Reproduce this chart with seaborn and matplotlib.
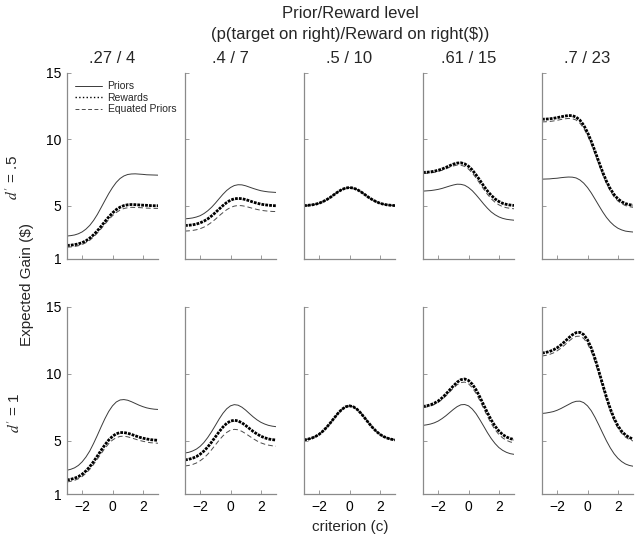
import matplotlib
matplotlib.use("Agg")
import matplotlib.pyplot as plt
from matplotlib.lines import Line2D
import seaborn as sns

# ---------------- data ----------------
criterion = [-3.0, -2.75, -2.5, -2.25, -2.0, -1.75, -1.5, -1.25, -1.0, -0.75, -0.5, -0.25,
             0.0, 0.25, 0.5, 0.75, 1.0, 1.25, 1.5, 1.75, 2.0, 2.25, 2.5, 2.75, 3.0]

col_titles = [".27 / 4", ".4 / 7", ".5 / 10", ".61 / 15", ".7 / 23"]
row_labels = [r"$d'$ = .5", r"$d'$ = 1"]
series_names = ["Priors", "Rewards", "Equated Priors"]
y_ticks = [1, 5, 10, 15]
x_ticks = [-2, 0, 2]

# d' = .5
d05_priors_1 = [2.73, 2.76, 2.81, 2.90, 3.04, 3.25, 3.53, 3.90, 4.35, 4.87, 5.40, 5.92, 6.38, 6.77, 7.06, 7.25, 7.36, 7.40, 7.41, 7.39, 7.37, 7.34, 7.33, 7.32, 7.31]
d05_rewards_1 = [2.02, 2.04, 2.08, 2.14, 2.23, 2.37, 2.57, 2.82, 3.12, 3.46, 3.82, 4.16, 4.47, 4.72, 4.90, 5.02, 5.08, 5.10, 5.09, 5.07, 5.05, 5.04, 5.02, 5.01, 5.01]
d05_equated_1 = [1.89, 1.91, 1.94, 2.00, 2.09, 2.23, 2.41, 2.66, 2.95, 3.28, 3.62, 3.96, 4.26, 4.50, 4.68, 4.80, 4.86, 4.89, 4.88, 4.87, 4.85, 4.83, 4.82, 4.81, 4.81]

d05_priors_2 = [4.02, 4.05, 4.09, 4.16, 4.26, 4.42, 4.63, 4.89, 5.20, 5.54, 5.87, 6.16, 6.38, 6.53, 6.59, 6.58, 6.51, 6.41, 6.31, 6.22, 6.14, 6.09, 6.05, 6.03, 6.01]
d05_rewards_2 = [3.52, 3.54, 3.57, 3.63, 3.72, 3.85, 4.02, 4.24, 4.49, 4.76, 5.02, 5.25, 5.43, 5.53, 5.56, 5.54, 5.47, 5.38, 5.28, 5.20, 5.13, 5.08, 5.05, 5.02, 5.01]
d05_equated_2 = [3.10, 3.12, 3.15, 3.20, 3.28, 3.40, 3.56, 3.76, 3.99, 4.25, 4.49, 4.71, 4.88, 4.98, 5.03, 5.01, 4.96, 4.88, 4.80, 4.73, 4.67, 4.63, 4.60, 4.58, 4.57]

d05_priors_3 = [5.02, 5.04, 5.07, 5.12, 5.20, 5.32, 5.47, 5.65, 5.86, 6.06, 6.23, 6.34, 6.38, 6.34, 6.23, 6.06, 5.86, 5.65, 5.47, 5.32, 5.20, 5.12, 5.07, 5.04, 5.02]
d05_rewards_3 = [5.02, 5.04, 5.07, 5.12, 5.20, 5.32, 5.47, 5.65, 5.86, 6.06, 6.23, 6.34, 6.38, 6.34, 6.23, 6.06, 5.86, 5.65, 5.47, 5.32, 5.20, 5.12, 5.07, 5.04, 5.02]
d05_equated_3 = [5.02, 5.04, 5.07, 5.12, 5.20, 5.32, 5.47, 5.65, 5.86, 6.06, 6.23, 6.34, 6.38, 6.34, 6.23, 6.06, 5.86, 5.65, 5.47, 5.32, 5.20, 5.12, 5.07, 5.04, 5.02]

d05_priors_4 = [6.11, 6.13, 6.15, 6.19, 6.24, 6.31, 6.40, 6.49, 6.57, 6.63, 6.62, 6.55, 6.38, 6.14, 5.83, 5.49, 5.14, 4.82, 4.54, 4.33, 4.17, 4.06, 3.99, 3.95, 3.92]
d05_rewards_4 = [7.52, 7.53, 7.56, 7.61, 7.68, 7.77, 7.89, 8.02, 8.14, 8.22, 8.24, 8.16, 7.98, 7.70, 7.33, 6.93, 6.50, 6.12, 5.79, 5.52, 5.33, 5.19, 5.11, 5.06, 5.03]
d05_equated_4 = [7.44, 7.45, 7.48, 7.52, 7.59, 7.68, 7.78, 7.90, 8.00, 8.07, 8.06, 7.97, 7.77, 7.47, 7.10, 6.68, 6.26, 5.87, 5.53, 5.27, 5.08, 4.94, 4.86, 4.81, 4.78]

d05_priors_5 = [7.01, 7.02, 7.03, 7.06, 7.08, 7.12, 7.15, 7.17, 7.16, 7.10, 6.95, 6.71, 6.38, 5.97, 5.50, 5.02, 4.55, 4.13, 3.79, 3.52, 3.32, 3.19, 3.10, 3.06, 3.03]
d05_rewards_5 = [11.52, 11.53, 11.55, 11.59, 11.64, 11.70, 11.76, 11.80, 11.79, 11.68, 11.45, 11.07, 10.53, 9.86, 9.10, 8.31, 7.54, 6.86, 6.29, 5.85, 5.53, 5.31, 5.17, 5.09, 5.05]
d05_equated_5 = [11.32, 11.33, 11.35, 11.39, 11.44, 11.50, 11.55, 11.58, 11.56, 11.46, 11.22, 10.84, 10.31, 9.64, 8.89, 8.12, 7.35, 6.68, 6.12, 5.68, 5.37, 5.16, 5.02, 4.94, 4.89]

# d' = 1
d1_priors_1 = [2.78, 2.85, 2.96, 3.14, 3.41, 3.77, 4.22, 4.78, 5.39, 6.03, 6.64, 7.18, 7.60, 7.89, 8.04, 8.07, 8.02, 7.91, 7.78, 7.65, 7.54, 7.45, 7.39, 7.35, 7.33]
d1_rewards_1 = [2.05, 2.10, 2.18, 2.30, 2.48, 2.73, 3.04, 3.42, 3.84, 4.27, 4.68, 5.04, 5.32, 5.51, 5.60, 5.60, 5.55, 5.46, 5.36, 5.26, 5.18, 5.12, 5.07, 5.04, 5.02]
d1_equated_1 = [1.90, 1.95, 2.02, 2.14, 2.31, 2.55, 2.85, 3.21, 3.61, 4.02, 4.42, 4.77, 5.04, 5.22, 5.31, 5.33, 5.28, 5.20, 5.11, 5.02, 4.95, 4.89, 4.84, 4.82, 4.80]

d1_priors_2 = [4.07, 4.12, 4.22, 4.36, 4.57, 4.86, 5.23, 5.66, 6.13, 6.61, 7.04, 7.38, 7.60, 7.69, 7.65, 7.50, 7.28, 7.02, 6.77, 6.55, 6.37, 6.24, 6.14, 6.08, 6.04]
d1_rewards_2 = [3.55, 3.60, 3.68, 3.80, 3.98, 4.22, 4.52, 4.88, 5.27, 5.66, 6.01, 6.29, 6.46, 6.52, 6.47, 6.33, 6.13, 5.90, 5.68, 5.49, 5.33, 5.21, 5.12, 5.07, 5.04]
d1_equated_2 = [3.10, 3.14, 3.21, 3.32, 3.49, 3.70, 3.98, 4.31, 4.67, 5.03, 5.35, 5.61, 5.78, 5.84, 5.81, 5.69, 5.52, 5.33, 5.14, 4.97, 4.83, 4.73, 4.66, 4.61, 4.58]

d1_priors_3 = [5.05, 5.10, 5.18, 5.30, 5.47, 5.71, 6.00, 6.34, 6.70, 7.05, 7.34, 7.53, 7.60, 7.53, 7.34, 7.05, 6.70, 6.34, 6.00, 5.71, 5.47, 5.30, 5.18, 5.10, 5.05]
d1_rewards_3 = [5.05, 5.10, 5.18, 5.30, 5.47, 5.71, 6.00, 6.34, 6.70, 7.05, 7.34, 7.53, 7.60, 7.53, 7.34, 7.05, 6.70, 6.34, 6.00, 5.71, 5.47, 5.30, 5.18, 5.10, 5.05]
d1_equated_3 = [5.05, 5.10, 5.18, 5.30, 5.47, 5.71, 6.00, 6.34, 6.70, 7.05, 7.34, 7.53, 7.60, 7.53, 7.34, 7.05, 6.70, 6.34, 6.00, 5.71, 5.47, 5.30, 5.18, 5.10, 5.05]

d1_priors_4 = [6.14, 6.18, 6.24, 6.33, 6.46, 6.64, 6.85, 7.09, 7.33, 7.54, 7.68, 7.70, 7.60, 7.36, 7.01, 6.56, 6.08, 5.59, 5.15, 4.78, 4.48, 4.27, 4.12, 4.02, 3.97]
d1_rewards_4 = [7.55, 7.60, 7.68, 7.80, 7.96, 8.19, 8.47, 8.78, 9.09, 9.37, 9.56, 9.61, 9.50, 9.22, 8.80, 8.26, 7.67, 7.08, 6.54, 6.08, 5.72, 5.45, 5.27, 5.15, 5.08]
d1_equated_4 = [7.47, 7.52, 7.59, 7.70, 7.86, 8.07, 8.33, 8.63, 8.92, 9.18, 9.34, 9.38, 9.25, 8.96, 8.53, 7.99, 7.40, 6.81, 6.27, 5.82, 5.46, 5.20, 5.02, 4.90, 4.83]

d1_priors_5 = [7.03, 7.06, 7.11, 7.17, 7.27, 7.40, 7.55, 7.70, 7.85, 7.94, 7.95, 7.84, 7.60, 7.23, 6.73, 6.16, 5.56, 4.98, 4.46, 4.02, 3.68, 3.43, 3.25, 3.14, 3.08]
d1_rewards_5 = [11.55, 11.60, 11.67, 11.79, 11.95, 12.16, 12.41, 12.68, 12.92, 13.08, 13.10, 12.93, 12.54, 11.93, 11.13, 10.19, 9.21, 8.25, 7.39, 6.67, 6.11, 5.70, 5.42, 5.23, 5.12]
d1_equated_5 = [11.33, 11.38, 11.45, 11.56, 11.72, 11.92, 12.16, 12.42, 12.65, 12.80, 12.82, 12.65, 12.26, 11.66, 10.86, 9.95, 8.98, 8.04, 7.20, 6.49, 5.94, 5.54, 5.26, 5.08, 4.97]

priors = [[d05_priors_1, d05_priors_2, d05_priors_3, d05_priors_4, d05_priors_5],
          [d1_priors_1, d1_priors_2, d1_priors_3, d1_priors_4, d1_priors_5]]
rewards = [[d05_rewards_1, d05_rewards_2, d05_rewards_3, d05_rewards_4, d05_rewards_5],
           [d1_rewards_1, d1_rewards_2, d1_rewards_3, d1_rewards_4, d1_rewards_5]]
equated = [[d05_equated_1, d05_equated_2, d05_equated_3, d05_equated_4, d05_equated_5],
           [d1_equated_1, d1_equated_2, d1_equated_3, d1_equated_4, d1_equated_5]]

# ---------------- style ----------------
sns.set_style("ticks")
plt.rcParams['font.family'] = ['Liberation Sans', 'DejaVu Sans']
plt.rcParams['mathtext.fontset'] = 'stix'

W, H = 640, 543
fig = plt.figure(figsize=(6.4, 5.43), dpi=100)
fig.patch.set_facecolor("white")

lefts = [67, 185, 304, 423, 542]
width = 91
rows = [(73, 259), (307, 494)]

prior_style = dict(color="#3a3a3a", lw=0.7, linestyle="-")
equated_style = dict(color="#4a4a4a", lw=0.7, linestyle=(0, (5, 3)))
reward_style = dict(color="black", lw=2.0, linestyle=(0, (1.0, 0.4)))

spine_col = "#8a8a8a"

for r in range(2):
    top, bot = rows[r]
    for c in range(5):
        ax = fig.add_axes([lefts[c] / W, 1 - bot / H, width / W, (bot - top) / H])
        sns.lineplot(x=criterion, y=priors[r][c], ax=ax, **prior_style)
        sns.lineplot(x=criterion, y=equated[r][c], ax=ax, **equated_style)
        sns.lineplot(x=criterion, y=rewards[r][c], ax=ax, **reward_style)
        ax.set_xlim(-3, 3)
        ax.set_ylim(1, 15)
        ax.set_xticks(x_ticks)
        ax.set_yticks(y_ticks)
        ax.set_yticklabels([str(v) for v in y_ticks])
        ax.set_xlabel("")
        ax.set_ylabel("")
        for s in ["top", "right"]:
            ax.spines[s].set_visible(False)
        for s in ["left", "bottom"]:
            ax.spines[s].set_color(spine_col)
            ax.spines[s].set_linewidth(0.9)
        ax.tick_params(direction="in", length=3, width=0.6, color=spine_col,
                       labelcolor="black", labelsize=10, pad=4,
                       labelleft=(c == 0), labelbottom=(r == 1))
        ax.set_facecolor("white")
        if r == 0:
            ax.set_title(col_titles[c], fontsize=12, pad=7)
        if r == 0 and c == 0:
            handles = [Line2D([], [], color="#3a3a3a", lw=0.7),
                       Line2D([], [], color="black", lw=1.0, linestyle=":"),
                       Line2D([], [], color="#4a4a4a", lw=0.7, linestyle=(0, (4, 2.5)))]
            ax.legend(handles, series_names, loc="upper left", frameon=False,
                      fontsize=7.5, handlelength=2.6, handletextpad=0.5,
                      labelspacing=0.15, borderaxespad=0.6, borderpad=0.2)

fig.text(350 / W, 1 - 14 / H, "Prior/Reward level", ha="center", va="center", fontsize=12)
fig.text(350 / W, 1 - 34 / H, "(p(target on right)/Reward on right(\\$))",
         ha="center", va="center", fontsize=12)
fig.text(13 / W, 1 - 178 / H, row_labels[0], rotation=90, ha="center", va="center", fontsize=11)
fig.text(15 / W, 1 - 413 / H, row_labels[1], rotation=90, ha="center", va="center", fontsize=11)
fig.text(27 / W, 1 - 285 / H, "Expected Gain (\\$)", rotation=90, ha="center", va="center", fontsize=11)
fig.text(350 / W, 1 - 527 / H, "criterion (c)", ha="center", va="center", fontsize=11)

fig.savefig("out.png", dpi=100, facecolor="white")
